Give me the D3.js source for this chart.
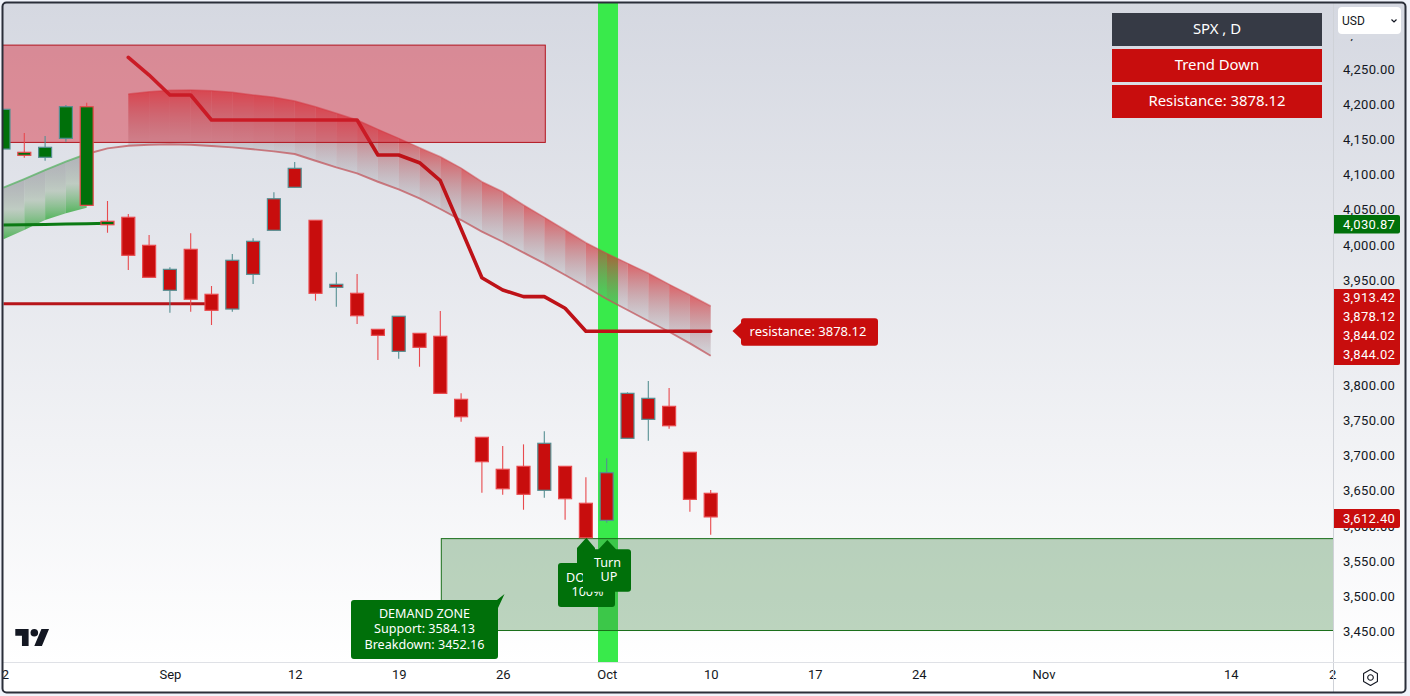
<!DOCTYPE html>
<html><head><meta charset="utf-8">
<script src="https://cdn.jsdelivr.net/npm/d3@7"></script>
<style>html,body{margin:0;padding:0;background:#f0f3fa;overflow:hidden}svg{display:block}</style>
</head><body><svg id="c" width="1410" height="696"></svg>
<script>
const open  = [4136.1,4131.4,4124.3,4151.3,4196.3,4033.2,4038.9,3999,3935,3993.3,3929.3,3908.3,3957.7,4020.4,4081.6,4034.6,3939.2,3930.7,3879.4,3848.1,3873.7,3869.5,3779.8,3725.7,3680.2,3684.4,3650.3,3684.4,3631.8,3607.5,3724.3,3751.3,3769.8,3704.4,3646];
const close = [4192.6,4127.1,4138.5,4196.3,4055.9,4028.3,3984.8,3953.5,3964.8,3922.2,3906.5,3977.7,4004.7,4065.3,4108.6,3930.7,3943.5,3898.8,3870.9,3898,3853.8,3788.3,3755,3691,3652.5,3644.6,3717.2,3638.3,3582.8,3675.3,3788.3,3781.2,3742.2,3637.4,3612.4];
const high  = [4192.6,4158.9,4154.6,4198.7,4202,4062.1,4043.6,4013.7,3967.7,4016.1,3941.1,3986.6,4009,4074.5,4117.6,4034.6,3960.6,3958.2,3879.4,3898,3873.7,3905.5,3788.3,3725.7,3713.3,3715.7,3734.2,3684.4,3668.8,3695.8,3789.7,3805.8,3795.9,3704.4,3650.7];
const low   = [4136.1,4123.7,4119.4,4146.5,4055.9,4016.9,3963.9,3953.5,3903.1,3904.5,3885.6,3904.5,3944,4020.4,4081.6,3920.2,3911.6,3887,3835.7,3837.6,3826.2,3788.3,3747.9,3646.8,3644,3622.6,3639.7,3608.4,3580,3604.1,3724.3,3720.9,3738,3619.8,3587];
const bullTrendCount = 6;
const upperBand = [null,null,null,null,null,null,4214.4,4217.7,4219.6,4220.1,4219.1,4216.8,4213,4209.7,4204.4,4196.3,4186.9,4177.4,4164.1,4151.3,4138,4125.1,4109,4089.5,4075.3,4056.4,4038.9,4020.8,4002.7,3987.6,3973.4,3959.2,3943.5,3928.3,3912.6];
const lowerBand = [4081,4093.4,4106.2,4118,4129,4137.1,4140.8,4142.2,4142.8,4142.2,4140.4,4138.5,4135.7,4132.8,4129,4119.4,4110,4101.5,4089.5,4078.7,4065.9,4050.7,4035,4018.4,4004.1,3988.5,3973.4,3956.7,3940.1,3922.6,3906.9,3891.3,3876,3859.5,3841.8];
const greenEdge = [4007.5,4020.8,4035,4044.6,4052.5];
const trendLine = [null,null,null,null,null,null,4266.6,4241.4,4213,4213,4177.4,4177.4,4177.4,4177.4,4177.4,4177.4,4177.4,4177.4,4127.6,4127.6,4116.6,4091,4022.2,3952.9,3935.4,3926,3926,3909.4,3876.6,3876.6,3876.6,3876.6,3876.6,3876.6,3876.6];
const oldSupport = [4027.9,4028.3,4028.8,4029.3,4029.8,4030.3];
const oldResistance = [3916,3916,3916,3916,3916,3916,3916,3916,3916,3916,3916];
const priceTicks = [3450,3500,3550,3600,3650,3700,3750,3800,3950,4000,4050,4100,4150,4200,4250,4300];
const timeTickIdx = [0,8,14,19,24,29,34,39,44,50,59,64];
const timeTickLabels = ["2","Sep","12","19","26","Oct","10","17","24","Nov","14","2"];
const table = ["SPX , D","Trend Down","Resistance: 3878.12"];
const stackLabels = ["3,913.42","3,878.12","3,844.02","3,844.02"];
const supplyZone = {top:4284,bottom:4145.5,from:-6,to:26};
const demandZone = {top:3581.5,bottom:3450.7,from:21};
const demandText = ["DEMAND ZONE","Support: 3584.13","Breakdown: 3452.16"];

const W=1410,H=696,plotR=1333,plotB=662,plotT=3,plotL=3;
const RED="#c80d0d",GREEN="#00700a",UPB="#558f92",DNB="#e84a4e";
const x=d3.scaleLinear().domain([0,34]).range([3.5,710.7]);
const y=d3.scaleLinear().domain([3450,4250]).range([631,69]);
const FONT="Noto Sans, sans-serif";
const svg=d3.select("#c");
const defs=svg.append("defs");
function grad(id,stops,attrs){const g=defs.append("linearGradient").attr("id",id).attr("x1",0).attr("x2",0).attr("y1",0).attr("y2",1);
  if(attrs)Object.entries(attrs).forEach(([k,v])=>g.attr(k,v));
  stops.forEach(s=>g.append("stop").attr("offset",s[0]).attr("stop-color",s[1]).attr("stop-opacity",s[2]));}
grad("bg",[[0,"#d5d8e1",1],[1,"#ffffff",1]],{gradientUnits:"userSpaceOnUse",x1:0,x2:0,y1:3,y2:662});
grad("redG",[[0,"#d8292e",.7],[1,"#808088",.22]]);
grad("grnG",[[0,"#7a7a80",.45],[.5,"#a8bca8",.6],[1,"#3fae48",.88]]);
defs.append("clipPath").attr("id","plot").append("rect").attr("x",plotL).attr("y",plotT).attr("width",plotR-plotL).attr("height",plotB-plotT);

svg.append("rect").attr("width",W).attr("height",H).attr("fill","#f0f3fa");
svg.append("rect").attr("x",3).attr("y",3).attr("width",1402).attr("height",689).attr("fill","#fff");
svg.append("rect").attr("x",3).attr("y",3).attr("width",1402).attr("height",659).attr("fill","url(#bg)");

const plot=svg.append("g").attr("clip-path","url(#plot)");
// signal column
plot.append("rect").attr("x",x(28.5)+1.7).attr("y",plotT).attr("width",x(29.5)-x(28.5)-.8).attr("height",plotB-plotT).attr("fill","#39ea4b");
// band segments
const seg=(i,a,b)=>`M${x(i)},${y(a[i])}L${x(i+1)},${y(a[i+1])}L${x(i+1)},${y(b[i+1])}L${x(i)},${y(b[i])}Z`;
plot.append("g").selectAll("path").data(d3.range(6,34)).join("path").attr("d",i=>seg(i,upperBand,lowerBand)).attr("fill","url(#redG)");
plot.append("g").selectAll("path").data(d3.range(0,4)).join("path").attr("d",i=>seg(i,lowerBand,greenEdge)).attr("fill","url(#grnG)");
const ln=d3.line().defined(d=>d[1]!=null).x(d=>x(d[0])).y(d=>y(d[1]));
const series=a=>a.map((v,i)=>[i,v]);
plot.append("path").attr("d",ln(series(upperBand))).attr("fill","none").attr("stroke","#d0484e").attr("stroke-opacity",.5).attr("stroke-width",1.5);
plot.append("path").attr("d",ln(series(lowerBand).slice(4))).attr("fill","none").attr("stroke","#c2565c").attr("stroke-opacity",.75).attr("stroke-width",1.9);
plot.append("path").attr("d",ln(series(lowerBand).slice(0,5))).attr("fill","none").attr("stroke","#5fb46a").attr("stroke-opacity",.8).attr("stroke-width",1.9);
// lines
plot.append("path").attr("d",ln(series(oldResistance))).attr("fill","none").attr("stroke","#b7141a").attr("stroke-width",3);
plot.append("path").attr("d",ln(series(oldSupport))).attr("fill","none").attr("stroke","#0b7a14").attr("stroke-width",3);
plot.append("path").attr("d",ln(series(trendLine))).attr("fill","none").attr("stroke","#be1218").attr("stroke-width",3.6).attr("stroke-linejoin","round").attr("stroke-linecap","round");
// zones
plot.append("rect").attr("x",x(supplyZone.from)).attr("y",y(supplyZone.top)).attr("width",x(supplyZone.to)+1-x(supplyZone.from)).attr("height",y(supplyZone.bottom)-y(supplyZone.top))
  .attr("fill","#da2738").attr("fill-opacity",.45).attr("stroke","#b2141e").attr("stroke-width",1);
plot.append("rect").attr("x",x(demandZone.from)+1).attr("y",y(demandZone.top)).attr("width",plotR+6-x(demandZone.from)).attr("height",y(demandZone.bottom)-y(demandZone.top))
  .attr("fill","#428849").attr("fill-opacity",.35).attr("stroke","#1a6e1a").attr("stroke-width",1);
// candles
const idx=d3.range(open.length);
const dirCol=i=>close[i]>=open[i]?UPB:DNB;
plot.append("g").selectAll("line").data(idx).join("line")
  .attr("x1",i=>x(i)).attr("x2",i=>x(i)).attr("y1",i=>y(high[i])).attr("y2",i=>y(low[i])).attr("stroke",dirCol).attr("stroke-width",1.1);
plot.append("g").selectAll("rect").data(idx).join("rect")
  .attr("x",i=>x(i)-6.5).attr("width",13)
  .attr("y",i=>y(Math.max(open[i],close[i]))).attr("height",i=>Math.abs(y(open[i])-y(close[i])))
  .attr("fill",i=>i<bullTrendCount?GREEN:RED).attr("stroke",dirCol).attr("stroke-width",1.2);

// logo
svg.append("g").attr("transform","translate(15.3,625.2) scale(.95)").attr("fill","#131722")
  .call(g=>{g.append("path").attr("d","M14 22H7V11H0V4h14v18zM28 22h-8l7.5-18h8L28 22z");g.append("circle").attr("cx",20).attr("cy",8).attr("r",4);});

function txt(g,s,xx,yy,o={}){return g.append("text").attr("x",xx).attr("y",yy).attr("dy",".35em").attr("text-anchor",o.a||"middle").attr("font-family",o.f||FONT).attr("font-size",o.s||13).attr("fill",o.c||"#fff").text(s);}
const ov=svg.append("g");
// demand label
ov.append("path").attr("d","M354,600H497L504.5,594L498,608V656a3,3 0 0 1 -3,3H354a3,3 0 0 1 -3,-3V603a3,3 0 0 1 3,-3Z").attr("fill",GREEN);
demandText.forEach((t,i)=>txt(ov,t,424.5,613.5+i*15.5,{s:12.6}));
// DOWN label
ov.append("path").attr("d","M586.3,537.7L595,548V563H612a3,3 0 0 1 3,3V604a3,3 0 0 1 -3,3H561a3,3 0 0 1 -3,-3V566a3,3 0 0 1 3,-3H577V548Z").attr("fill",GREEN);
txt(ov,"DO",575.5,577.5,{s:12.6});
txt(ov,"100%",587.5,592,{s:12.6});
// Turn label
ov.append("path").attr("d","M607.3,540L616,549.3H628a3,3 0 0 1 3,3V588.7a3,3 0 0 1 -3,3H586a3,3 0 0 1 -3,-3V552.3a3,3 0 0 1 3,-3H598.6Z").attr("fill",GREEN);
txt(ov,"Turn",607.5,562.5,{s:12.6});
txt(ov,"UP",609,577,{s:12.6});
// resistance callout
ov.append("path").attr("d","M744,318.3H875a3,3 0 0 1 3,3V342.7a3,3 0 0 1 -3,3H744a3,3 0 0 1 -3,-3V339L732.5,331L741,323V321.3a3,3 0 0 1 3,-3Z").attr("fill",RED);
txt(ov,"resistance: 3878.12",808,331.5,{s:13});
// table
const rows=[[13,"#363a45"],[49,RED],[85,RED]];
rows.forEach((r,i)=>{ov.append("rect").attr("x",1112).attr("y",r[0]).attr("width",210).attr("height",33).attr("fill",r[1]);txt(ov,table[i],1217,r[0]+15.5,{s:14.9});});

// axes
const ya=d3.axisRight(y).tickValues(priceTicks).tickFormat(d3.format(",.2f")).tickSize(0).tickPadding(0);
const yg=svg.append("g").attr("transform","translate(1343,0.3)").call(ya);
yg.select(".domain").remove();
yg.selectAll("text").attr("font-family","Roboto, sans-serif").attr("font-size",13).attr("fill","#131722").attr("letter-spacing",".3px");
const xa=d3.axisBottom(x).tickValues(timeTickIdx).tickFormat((d,i)=>timeTickLabels[i]).tickSize(0).tickPadding(0);
const xg=svg.append("g").attr("transform","translate(0,670)").call(xa);
xg.select(".domain").remove();
xg.selectAll("text").attr("font-family","Roboto, sans-serif").attr("font-size",13).attr("fill","#131722");
xg.selectAll("text").filter((d,i)=>i===0).attr("x",1.5);
xg.selectAll("text").filter((d,i)=>i===timeTickIdx.length-1).attr("x",-2.5);
svg.append("line").attr("x1",1333.5).attr("x2",1333.5).attr("y1",3).attr("y2",692).attr("stroke","#cfd2d8");
svg.append("line").attr("x1",3).attr("x2",1405).attr("y1",662.5).attr("y2",662.5).attr("stroke","#dfe1e6");
// price tags
function tag(yy,h,col){svg.append("path").attr("d",`M1334,${yy}H1398a2,2 0 0 1 2,2V${yy+h-2}a2,2 0 0 1 -2,2H1334Z`).attr("fill",col);}
const tagTxt=(s,yy)=>txt(svg,s,1369,yy,{f:"Roboto, sans-serif"}).attr("letter-spacing",".3px");
tag(215,18.5,GREEN);tagTxt("4,030.87",224);
tag(289,76,RED);stackLabels.forEach((t,i)=>tagTxt(t,297.5+i*19));
tag(509,19,RED);tagTxt("3,612.40",518);
// USD
svg.append("rect").attr("x",1338).attr("y",34).attr("width",63).attr("height",5).attr("fill","#d8dbe3");
svg.append("rect").attr("x",1338).attr("y",7).attr("width",63).attr("height",27).attr("rx",4).attr("fill","#fff");
txt(svg,"USD",1342,20.5,{a:"start",s:12,c:"#131722",f:"Roboto, sans-serif"});
svg.append("path").attr("d","M1391.5,19.5L1394,22L1396.5,19.5").attr("fill","none").attr("stroke","#131722").attr("stroke-width",1.2);
// gear
const gear=svg.append("g").attr("transform","translate(1370.5,677.5)").attr("fill","none").attr("stroke","#131722").attr("stroke-width",1.1);
gear.append("path").attr("d",d3.line()(d3.range(6).map(k=>[8*Math.sin(k*Math.PI/3),-8*Math.cos(k*Math.PI/3)]))+"Z").attr("stroke-linejoin","round");
gear.append("circle").attr("r",2.8);
// frame
svg.append("rect").attr("x",2.5).attr("y",2.5).attr("width",1403).attr("height",690).attr("rx",4).attr("fill","none").attr("stroke","#2a2e39").attr("stroke-width",2);
</script></body></html>
